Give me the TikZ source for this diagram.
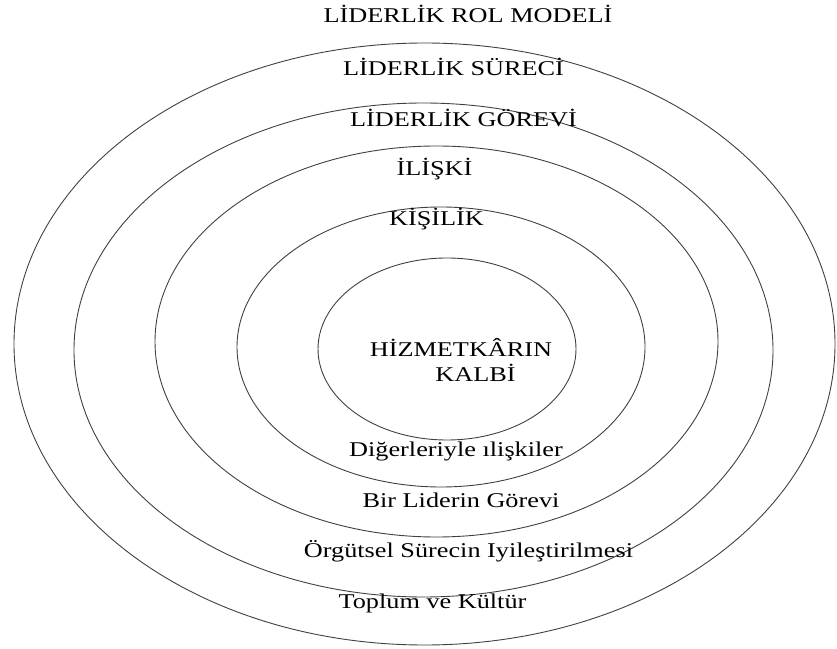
\documentclass[tikz,border=0pt]{standalone}
\usepackage{fontspec}
\setmainfont[FakeStretch=1.25]{Liberation Serif}
\begin{document}
\begin{tikzpicture}[x=1pt,y=1pt,
  ring/.style={draw=black!75,line width=0.9pt},
  lbl/.style={anchor=base,inner sep=0pt,text=black,font=\fontsize{21}{24}\selectfont}]
\useasboundingbox (0,0) rectangle (837,648);
% ring centres (image y flipped: y = 648 - y_img)
\coordinate (c1) at (447,299);
\coordinate (c2) at (441,301);
\coordinate (c3) at (436.5,306.5);
\coordinate (c4) at (423.5,298);
\coordinate (c5) at (424.5,304);
\draw[ring] (c1) ellipse [x radius=129, y radius=91];
\draw[ring] (c2) ellipse [x radius=204, y radius=140];
\draw[ring] (c3) ellipse [x radius=281.5, y radius=195.5];
\draw[ring] (c4) ellipse [x radius=349.5, y radius=247];
\draw[ring] (c5) ellipse [x radius=410.5, y radius=301];
% labels
\node[lbl] (rol)   at (468,625)   {LİDERLİK ROL MODELİ};
\node[lbl] (surec) at (453.5,572) {LİDERLİK SÜRECİ};
\node[lbl] (gorev) at (463.5,521) {LİDERLİK GÖREVİ};
\node[lbl] (iliski) at (434.5,472) {İLİŞKİ};
\node[lbl] (kisilik) at (436.5,422) {KİŞİLİK};
\node[lbl] (hiz)   at (461,291)   {HİZMETKÂRIN};
\node[lbl] (kalbi) at (475.5,266) {KALBİ};
\node[lbl] (dig)   at (456,191)   {Diğerleriyle ılişkiler};
\node[lbl] (bir)   at (461,141)   {Bir Liderin Görevi};
\node[lbl] (org)   at (468.5,91)  {Örgütsel Sürecin Iyileştirilmesi};
\node[lbl] (top)   at (432.5,40)  {Toplum ve Kültür};
\end{tikzpicture}
\end{document}
